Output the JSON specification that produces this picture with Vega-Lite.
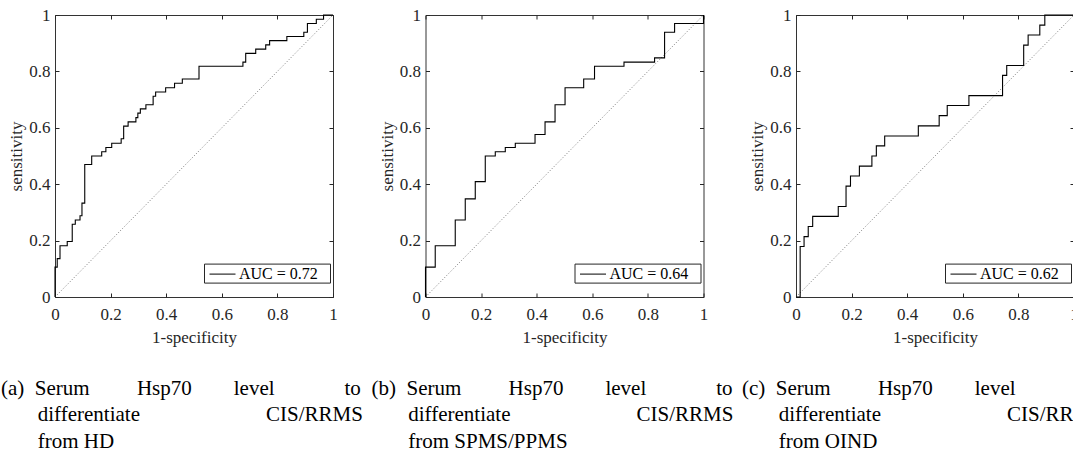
{
  "$schema": "https://vega.github.io/schema/vega-lite/v6.json",
  "padding": {"top": 5, "left": 0, "right": 0, "bottom": 0},
  "background": "white",
  "datasets": {
    "diag": [{"fpr": 0, "tpr": 0}, {"fpr": 1, "tpr": 1}],
    "rocA": [
      {"fpr": 0, "tpr": 0, "label": "AUC = 0.72"},
      {"fpr": 0, "tpr": 0.106, "label": "AUC = 0.72"},
      {"fpr": 0.008, "tpr": 0.136, "label": "AUC = 0.72"},
      {"fpr": 0.018, "tpr": 0.182, "label": "AUC = 0.72"},
      {"fpr": 0.044, "tpr": 0.197, "label": "AUC = 0.72"},
      {"fpr": 0.062, "tpr": 0.258, "label": "AUC = 0.72"},
      {"fpr": 0.073, "tpr": 0.273, "label": "AUC = 0.72"},
      {"fpr": 0.09, "tpr": 0.288, "label": "AUC = 0.72"},
      {"fpr": 0.097, "tpr": 0.333, "label": "AUC = 0.72"},
      {"fpr": 0.107, "tpr": 0.47, "label": "AUC = 0.72"},
      {"fpr": 0.132, "tpr": 0.5, "label": "AUC = 0.72"},
      {"fpr": 0.168, "tpr": 0.515, "label": "AUC = 0.72"},
      {"fpr": 0.183, "tpr": 0.53, "label": "AUC = 0.72"},
      {"fpr": 0.204, "tpr": 0.545, "label": "AUC = 0.72"},
      {"fpr": 0.238, "tpr": 0.561, "label": "AUC = 0.72"},
      {"fpr": 0.247, "tpr": 0.606, "label": "AUC = 0.72"},
      {"fpr": 0.263, "tpr": 0.621, "label": "AUC = 0.72"},
      {"fpr": 0.291, "tpr": 0.636, "label": "AUC = 0.72"},
      {"fpr": 0.298, "tpr": 0.652, "label": "AUC = 0.72"},
      {"fpr": 0.307, "tpr": 0.667, "label": "AUC = 0.72"},
      {"fpr": 0.327, "tpr": 0.682, "label": "AUC = 0.72"},
      {"fpr": 0.353, "tpr": 0.712, "label": "AUC = 0.72"},
      {"fpr": 0.362, "tpr": 0.727, "label": "AUC = 0.72"},
      {"fpr": 0.398, "tpr": 0.742, "label": "AUC = 0.72"},
      {"fpr": 0.43, "tpr": 0.758, "label": "AUC = 0.72"},
      {"fpr": 0.458, "tpr": 0.773, "label": "AUC = 0.72"},
      {"fpr": 0.518, "tpr": 0.818, "label": "AUC = 0.72"},
      {"fpr": 0.676, "tpr": 0.833, "label": "AUC = 0.72"},
      {"fpr": 0.686, "tpr": 0.864, "label": "AUC = 0.72"},
      {"fpr": 0.722, "tpr": 0.879, "label": "AUC = 0.72"},
      {"fpr": 0.758, "tpr": 0.894, "label": "AUC = 0.72"},
      {"fpr": 0.772, "tpr": 0.909, "label": "AUC = 0.72"},
      {"fpr": 0.834, "tpr": 0.924, "label": "AUC = 0.72"},
      {"fpr": 0.895, "tpr": 0.939, "label": "AUC = 0.72"},
      {"fpr": 0.908, "tpr": 0.97, "label": "AUC = 0.72"},
      {"fpr": 0.94, "tpr": 0.985, "label": "AUC = 0.72"},
      {"fpr": 0.966, "tpr": 1, "label": "AUC = 0.72"},
      {"fpr": 1, "tpr": 1, "label": "AUC = 0.72"}
    ],
    "rocB": [
      {"fpr": 0, "tpr": 0, "label": "AUC = 0.64"},
      {"fpr": 0, "tpr": 0.106, "label": "AUC = 0.64"},
      {"fpr": 0.035, "tpr": 0.182, "label": "AUC = 0.64"},
      {"fpr": 0.107, "tpr": 0.273, "label": "AUC = 0.64"},
      {"fpr": 0.143, "tpr": 0.348, "label": "AUC = 0.64"},
      {"fpr": 0.179, "tpr": 0.409, "label": "AUC = 0.64"},
      {"fpr": 0.215, "tpr": 0.5, "label": "AUC = 0.64"},
      {"fpr": 0.251, "tpr": 0.515, "label": "AUC = 0.64"},
      {"fpr": 0.287, "tpr": 0.53, "label": "AUC = 0.64"},
      {"fpr": 0.323, "tpr": 0.545, "label": "AUC = 0.64"},
      {"fpr": 0.394, "tpr": 0.576, "label": "AUC = 0.64"},
      {"fpr": 0.43, "tpr": 0.621, "label": "AUC = 0.64"},
      {"fpr": 0.466, "tpr": 0.682, "label": "AUC = 0.64"},
      {"fpr": 0.502, "tpr": 0.742, "label": "AUC = 0.64"},
      {"fpr": 0.569, "tpr": 0.773, "label": "AUC = 0.64"},
      {"fpr": 0.608, "tpr": 0.818, "label": "AUC = 0.64"},
      {"fpr": 0.714, "tpr": 0.833, "label": "AUC = 0.64"},
      {"fpr": 0.824, "tpr": 0.848, "label": "AUC = 0.64"},
      {"fpr": 0.86, "tpr": 0.939, "label": "AUC = 0.64"},
      {"fpr": 0.896, "tpr": 0.97, "label": "AUC = 0.64"},
      {"fpr": 1, "tpr": 0.97, "label": "AUC = 0.64"},
      {"fpr": 1, "tpr": 1, "label": "AUC = 0.64"}
    ],
    "rocC": [
      {"fpr": 0, "tpr": 0, "label": "AUC = 0.62"},
      {"fpr": 0.015, "tpr": 0.179, "label": "AUC = 0.62"},
      {"fpr": 0.029, "tpr": 0.214, "label": "AUC = 0.62"},
      {"fpr": 0.044, "tpr": 0.25, "label": "AUC = 0.62"},
      {"fpr": 0.06, "tpr": 0.286, "label": "AUC = 0.62"},
      {"fpr": 0.152, "tpr": 0.321, "label": "AUC = 0.62"},
      {"fpr": 0.18, "tpr": 0.393, "label": "AUC = 0.62"},
      {"fpr": 0.196, "tpr": 0.429, "label": "AUC = 0.62"},
      {"fpr": 0.228, "tpr": 0.464, "label": "AUC = 0.62"},
      {"fpr": 0.273, "tpr": 0.5, "label": "AUC = 0.62"},
      {"fpr": 0.289, "tpr": 0.536, "label": "AUC = 0.62"},
      {"fpr": 0.319, "tpr": 0.571, "label": "AUC = 0.62"},
      {"fpr": 0.44, "tpr": 0.607, "label": "AUC = 0.62"},
      {"fpr": 0.515, "tpr": 0.643, "label": "AUC = 0.62"},
      {"fpr": 0.544, "tpr": 0.679, "label": "AUC = 0.62"},
      {"fpr": 0.622, "tpr": 0.714, "label": "AUC = 0.62"},
      {"fpr": 0.743, "tpr": 0.786, "label": "AUC = 0.62"},
      {"fpr": 0.758, "tpr": 0.821, "label": "AUC = 0.62"},
      {"fpr": 0.819, "tpr": 0.893, "label": "AUC = 0.62"},
      {"fpr": 0.835, "tpr": 0.929, "label": "AUC = 0.62"},
      {"fpr": 0.877, "tpr": 0.964, "label": "AUC = 0.62"},
      {"fpr": 0.895, "tpr": 1, "label": "AUC = 0.62"},
      {"fpr": 1, "tpr": 1, "label": "AUC = 0.62"}
    ]
  },
  "hconcat": [
    {
      "width": 278,
      "height": 282,
      "title": {"text": ["(a)\u2002Serum\u2003\u2003\u2005Hsp70\u2003\u2003level\u2003\u2003\u2003\u2004to", "\u2060\u2003\u2002\u2005differentiate\u2003\u2003\u2003\u2003\u2003\u2003CIS/RRMS", "\u2060\u2003\u2002\u2005from HD"]},
      "layer": [
        {
          "data": {"name": "diag"},
          "mark": {"type": "line", "color": "#555555", "strokeDash": [1, 2], "strokeWidth": 0.8},
          "encoding": {
            "x": {"field": "fpr", "type": "quantitative", "scale": {"domain": [0, 1], "nice": false}, "axis": {"orient": "top", "labels": false, "title": null, "grid": false, "domain": false, "ticks": true, "tickSize": -4, "tickColor": "#262626", "values": [0, 0.2, 0.4, 0.6, 0.8, 1]}},
            "y": {"field": "tpr", "type": "quantitative", "scale": {"domain": [0, 1], "nice": false}, "axis": {"orient": "right", "labels": false, "title": null, "grid": false, "domain": false, "ticks": true, "tickSize": -4, "tickColor": "#262626", "values": [0, 0.2, 0.4, 0.6, 0.8, 1]}}
          }
        },
        {
          "data": {"name": "rocA"},
          "mark": {"type": "line", "interpolate": "step-after", "strokeWidth": 1.1},
          "encoding": {
            "x": {"field": "fpr", "type": "quantitative", "scale": {"domain": [0, 1], "nice": false}, "axis": {"title": "1-specificity", "values": [0, 0.2, 0.4, 0.6, 0.8, 1], "format": ".1~f"}},
            "y": {"field": "tpr", "type": "quantitative", "scale": {"domain": [0, 1], "nice": false}, "axis": {"title": "sensitivity", "values": [0, 0.2, 0.4, 0.6, 0.8, 1], "format": ".1~f"}},
            "order": [{"field": "fpr", "type": "quantitative"}, {"field": "tpr", "type": "quantitative"}],
            "stroke": {"field": "label", "type": "nominal", "scale": {"range": ["black"]}, "legend": {"title": "\u2060\u2003\u2060", "orient": "none", "legendX": 149, "legendY": 248.6}}
          }
        }
      ],
      "resolve": {"axis": {"x": "independent", "y": "independent"}}
    },
    {
      "width": 278,
      "height": 282,
      "title": {"text": ["(b)\u2002Serum\u2003\u2003\u2005Hsp70\u2003\u2003level\u2003\u2003\u2003\u2004to", "\u2060\u2003\u2002\u2005differentiate\u2003\u2003\u2003\u2003\u2003\u2003CIS/RRMS", "\u2060\u2003\u2002\u2005from SPMS/PPMS"]},
      "layer": [
        {
          "data": {"name": "diag"},
          "mark": {"type": "line", "color": "#555555", "strokeDash": [1, 2], "strokeWidth": 0.8},
          "encoding": {
            "x": {"field": "fpr", "type": "quantitative", "scale": {"domain": [0, 1], "nice": false}, "axis": {"orient": "top", "labels": false, "title": null, "grid": false, "domain": false, "ticks": true, "tickSize": -4, "tickColor": "#262626", "values": [0, 0.2, 0.4, 0.6, 0.8, 1]}},
            "y": {"field": "tpr", "type": "quantitative", "scale": {"domain": [0, 1], "nice": false}, "axis": {"orient": "right", "labels": false, "title": null, "grid": false, "domain": false, "ticks": true, "tickSize": -4, "tickColor": "#262626", "values": [0, 0.2, 0.4, 0.6, 0.8, 1]}}
          }
        },
        {
          "data": {"name": "rocB"},
          "mark": {"type": "line", "interpolate": "step-after", "strokeWidth": 1.1},
          "encoding": {
            "x": {"field": "fpr", "type": "quantitative", "scale": {"domain": [0, 1], "nice": false}, "axis": {"title": "1-specificity", "values": [0, 0.2, 0.4, 0.6, 0.8, 1], "format": ".1~f"}},
            "y": {"field": "tpr", "type": "quantitative", "scale": {"domain": [0, 1], "nice": false}, "axis": {"title": "sensitivity", "values": [0, 0.2, 0.4, 0.6, 0.8, 1], "format": ".1~f"}},
            "order": [{"field": "fpr", "type": "quantitative"}, {"field": "tpr", "type": "quantitative"}],
            "stroke": {"field": "label", "type": "nominal", "scale": {"range": ["black"]}, "legend": {"title": "\u2060\u2003\u2060", "orient": "none", "legendX": 149, "legendY": 248.6}}
          }
        }
      ],
      "resolve": {"axis": {"x": "independent", "y": "independent"}}
    },
    {
      "width": 278,
      "height": 282,
      "title": {"text": ["(c)\u2002Serum\u2003\u2003\u2005Hsp70\u2003\u2003level\u2003\u2003\u2003\u2004to", "\u2060\u2003\u2002\u2005differentiate\u2003\u2003\u2003\u2003\u2003\u2003CIS/RRMS", "\u2060\u2003\u2002\u2005from OIND"]},
      "layer": [
        {
          "data": {"name": "diag"},
          "mark": {"type": "line", "color": "#555555", "strokeDash": [1, 2], "strokeWidth": 0.8},
          "encoding": {
            "x": {"field": "fpr", "type": "quantitative", "scale": {"domain": [0, 1], "nice": false}, "axis": {"orient": "top", "labels": false, "title": null, "grid": false, "domain": false, "ticks": true, "tickSize": -4, "tickColor": "#262626", "values": [0, 0.2, 0.4, 0.6, 0.8, 1]}},
            "y": {"field": "tpr", "type": "quantitative", "scale": {"domain": [0, 1], "nice": false}, "axis": {"orient": "right", "labels": false, "title": null, "grid": false, "domain": false, "ticks": true, "tickSize": -4, "tickColor": "#262626", "values": [0, 0.2, 0.4, 0.6, 0.8, 1]}}
          }
        },
        {
          "data": {"name": "rocC"},
          "mark": {"type": "line", "interpolate": "step-after", "strokeWidth": 1.1},
          "encoding": {
            "x": {"field": "fpr", "type": "quantitative", "scale": {"domain": [0, 1], "nice": false}, "axis": {"title": "1-specificity", "values": [0, 0.2, 0.4, 0.6, 0.8, 1], "format": ".1~f"}},
            "y": {"field": "tpr", "type": "quantitative", "scale": {"domain": [0, 1], "nice": false}, "axis": {"title": "sensitivity", "values": [0, 0.2, 0.4, 0.6, 0.8, 1], "format": ".1~f"}},
            "order": [{"field": "fpr", "type": "quantitative"}, {"field": "tpr", "type": "quantitative"}],
            "stroke": {"field": "label", "type": "nominal", "scale": {"range": ["black"]}, "legend": {"title": "\u2060\u2003\u2060", "orient": "none", "legendX": 149, "legendY": 248.6}}
          }
        }
      ],
      "resolve": {"axis": {"x": "independent", "y": "independent"}}
    }
  ],
  "spacing": 92.5,
  "bounds": "flush",
  "resolve": {"scale": {"stroke": "independent"}, "legend": {"stroke": "independent"}},
  "config": {
    "view": {"stroke": "#333333", "strokeWidth": 1},
    "axis": {
      "labelFont": "Liberation Serif, DejaVu Serif, serif",
      "labelFontSize": 17,
      "labelColor": "#262626",
      "titleFont": "Liberation Serif, DejaVu Serif, serif",
      "titleFontSize": 17,
      "titleFontWeight": "normal",
      "titleColor": "#262626",
      "domain": false,
      "ticks": true,
      "tickSize": -4,
      "tickColor": "#262626",
      "grid": true,
      "gridColor": "#e3e3e3",
      "gridWidth": 1,
      "labelFlush": false,
      "labelOverlap": false
    },
    "axisX": {"labelPadding": 13.5, "titlePadding": 7},
    "axisY": {"labelPadding": 9, "titlePadding": 3},
    "legend": {
      "labelFont": "Liberation Serif, DejaVu Serif, serif",
      "labelFontSize": 16,
      "labelColor": "black",
      "symbolType": "M-1.3,0H1.3",
      "symbolSize": 400,
      "symbolStrokeWidth": 1,
      "symbolOffset": 8,
      "strokeColor": "#262626",
      "fillColor": "white",
      "padding": 0,
      "labelOffset": 6,
      "cornerRadius": 0,
      "titleOrient": "right",
      "titlePadding": 0,
      "titleFont": "Liberation Serif, DejaVu Serif, serif",
      "titleFontSize": 12,
      "titleFontWeight": "normal"
    },
    "title": {
      "font": "Liberation Serif, DejaVu Serif, serif",
      "fontSize": 21,
      "fontWeight": "normal",
      "color": "black",
      "orient": "bottom",
      "anchor": "start",
      "frame": "group",
      "align": "left",
      "baseline": "top",
      "dx": -54,
      "offset": 32,
      "lineHeight": 26.7
    }
  }
}
